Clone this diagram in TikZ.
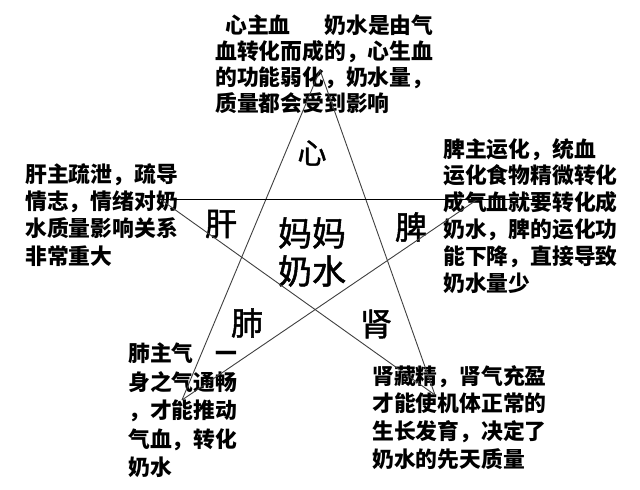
\documentclass[tikz,border=0pt]{standalone}
\usepackage{fontspec}
\newfontfamily\cjk{Noto Sans CJK SC}
\newfontfamily\cjkorgan{Noto Sans CJK SC}[FakeBold=1.5]
\begin{document}
\begin{tikzpicture}[x=1pt,y=-1pt,
  note/.style={anchor=north west, inner sep=0pt, align=left,
    font=\cjk\bfseries\fontsize{21.8}{#1}\selectfont},
  organ/.style={inner sep=0pt, font=\cjkorgan\fontsize{#1}{#1}\selectfont},
  starline/.style={draw=black!75, line width=0.9pt},
  hline/.style={draw=black, line width=1pt}]
\useasboundingbox[fill=white] (0,0) rectangle (640,490);
% notes
\node[note=26] (heart) at (215,15) {\hspace*{10pt}心主血\hspace*{34pt}奶水是由气\\血转化而成的，心生血\\的功能弱化，奶水量，\\质量都会受到影响};
\node[note=27.3] (liver) at (25,163) {肝主疏泄，疏导\\情志，情绪对奶\\水质量影响关系\\非常重大};
\node[note=26.8] (spleen) at (443,138) {脾主运化，统血\\运化食物精微转化\\成气血就要转化成\\奶水，脾的运化功\\能下降，直接导致\\奶水量少};
\node[note=28.5] (lung) at (128,343) {肺主气　一\\身之气通畅\\，才能推动\\气血，转化\\奶水};
\node[note=27.7] (kidney) at (372,365) {肾藏精，肾气充盈\\才能使机体正常的\\生长发育，决定了\\奶水的先天质量};
% organ labels
\node[organ=29] (xin) at (312,153) {心};
\node[organ=32] (gan) at (221,224) {肝};
\node[organ=32] (pi) at (411,227) {脾};
\node[organ=32] (fei) at (247,323) {肺};
\node[organ=32] (shen) at (376,324) {肾};
\node[organ=34, align=center, font=\cjkorgan\fontsize{34}{38}\selectfont] (mama) at (312,252) {妈妈\\奶水};
% star
\coordinate (T) at (320,70);
\coordinate (L) at (160,199);
\coordinate (Rd) at (478,199);
\coordinate (Rh) at (540,199);
\coordinate (BL) at (182,400);
\coordinate (BR) at (435,395);
\draw[starline] (T) -- (BL);
\draw[starline] (T) -- (BR);
\draw[starline] (L) -- (BR);
\draw[starline] (BL) -- (Rd);
\draw[hline] (L) -- (Rh);
\end{tikzpicture}
\end{document}
